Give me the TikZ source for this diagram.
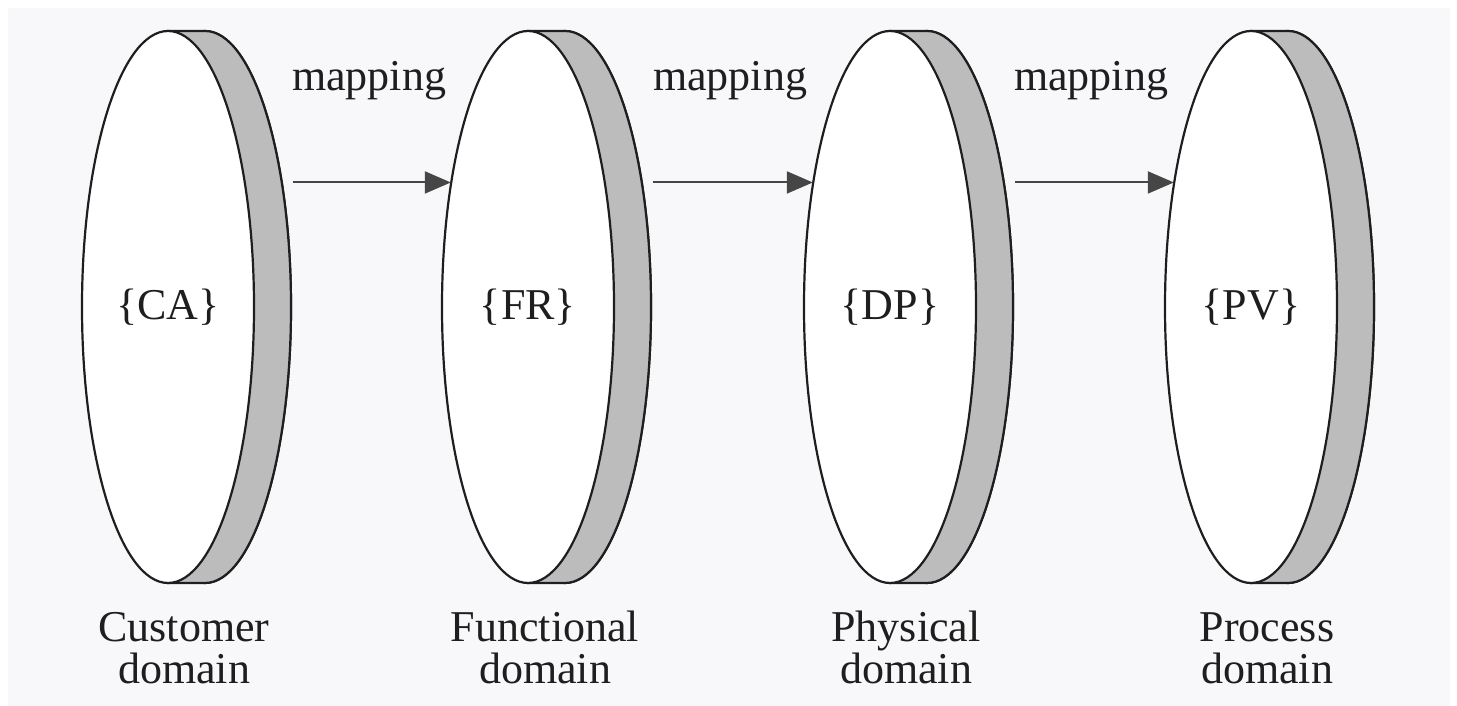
\documentclass[tikz,border=0pt]{standalone}
\usepackage{fontspec}
\setmainfont{Liberation Serif}
\usetikzlibrary{shapes.geometric,arrows.meta}
\definecolor{rimgray}{RGB}{188,188,188}
\definecolor{inkc}{RGB}{30,30,30}
\definecolor{arrowc}{RGB}{70,70,70}
\definecolor{paper}{RGB}{248,248,250}
\tikzset{
  txt/.style={font=\fontsize{44}{42}\selectfont, text=inkc},
  front/.style={ellipse, draw=inkc, line width=2.2pt, fill=white, minimum width=172pt, minimum height=552pt, inner sep=0pt, txt},
  back/.style={ellipse, draw=inkc, line width=2.2pt, fill=rimgray, minimum width=172pt, minimum height=552pt, inner sep=0pt},
  rim/.style={draw=inkc, line width=2.2pt, fill=rimgray},
  maparrow/.style={draw=arrowc, line width=2pt, shorten <=10pt, -{Triangle[length=26pt,width=22pt,fill=arrowc]}},
  domlabel/.style={txt, align=center, anchor=base},
}
\begin{document}
\begin{tikzpicture}[x=1pt,y=1pt]
\useasboundingbox (0,0) rectangle (1457,706);
\fill[white] (0,0) rectangle (1457,706);
\fill[paper] (8,0) rectangle (1450,698);
% discs
\foreach \n/\cx/\lab in {ca/168/CA, fr/528/FR, dp/890/DP, pv/1251/PV}{
  \node[back] (\n back) at (\cx+37,399) {};
  \path[rim] (\cx,675) -- (\cx+37,675) arc[start angle=90, end angle=-90, x radius=86, y radius=276] -- (\cx,123) -- cycle;
  \node[front] (\n) at (\cx,399) {\{\lab\}};
}
% arrows
\draw[maparrow] (caback.58.5) -- (fr.121.5 |- caback.58.5);
\draw[maparrow] (frback.58.5) -- (dp.121.5 |- frback.58.5);
\draw[maparrow] (dpback.58.5) -- (pv.121.5 |- dpback.58.5);
% mapping labels
\node[txt, anchor=base] (m1) at (369,615) {mapping};
\node[txt, anchor=base] (m2) at (730,615) {mapping};
\node[txt, anchor=base] (m3) at (1091,615) {mapping};
% domain labels
\node[domlabel] (l1) at (184,22) {Customer\\domain};
\node[domlabel] (l2) at (545,22) {Functional\\domain};
\node[domlabel] (l3) at (906,22) {Physical\\domain};
\node[domlabel] (l4) at (1267,22) {Process\\domain};
\end{tikzpicture}
\end{document}
